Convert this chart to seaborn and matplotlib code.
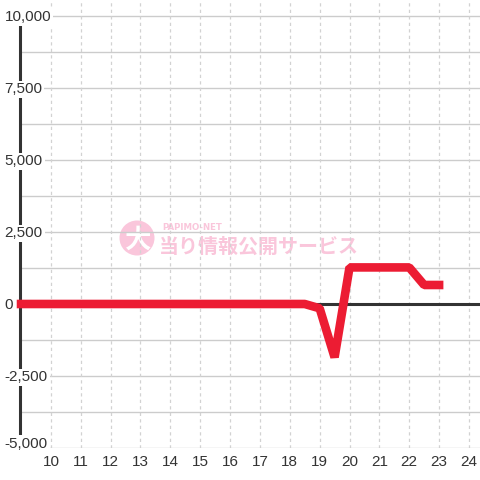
import matplotlib
matplotlib.use("Agg")
import numpy as np
import pandas as pd
import matplotlib.pyplot as plt
import seaborn as sns
from matplotlib.transforms import ScaledTranslation
from matplotlib.patches import Ellipse

# ---- data ----
hours = [9, 9.5, 10, 10.5, 11, 11.5, 12, 12.5, 13, 13.5, 14, 14.5, 15, 15.5,
         16, 16.5, 17, 17.5, 18, 18.5, 19, 19.5, 20, 20.5, 21, 21.5, 22, 22.5, 23]
values = [0, 0, 0, 0, 0, 0, 0, 0, 0, 0, 0, 0, 0, 0,
          0, 0, 0, 0, 0, 0, -150, -1850, 1270, 1270, 1270, 1270, 1270, 660, 660]
x_ticks = [10, 11, 12, 13, 14, 15, 16, 17, 18, 19, 20, 21, 22, 23, 24]
y_ticks = [-5000, -3750, -2500, -1250, 0, 1250, 2500, 3750, 5000, 6250, 7500, 8750, 10000]
y_labels = ["-5,000", "", "-2,500", "", "0", "", "2,500", "", "5,000", "", "7,500", "", "10,000"]

df = pd.DataFrame({"hour": hours, "value": values})

sns.set_theme(style="white")
plt.rcParams["font.family"] = ["Liberation Sans", "Noto Sans CJK JP", "DejaVu Sans"]

fig = plt.figure(figsize=(4.8, 4.8), dpi=100)
fig.patch.set_facecolor("white")
ax = fig.add_axes([20 / 480, 32 / 480, 460 / 480, 448 / 480])
ax.set_facecolor("white")

RED = "#ec1c33"
DARK = "#333333"
GRID = "#cccccc"

sns.lineplot(data=df, x="hour", y="value", ax=ax, color=RED, linewidth=6.2,
             solid_capstyle="projecting", solid_joinstyle="bevel", zorder=2.6,
             clip_on=False)

ax.set_xlim(8.965, 24.37)
ax.set_ylim(-5000, 10555)

# horizontal gridlines
for yv in y_ticks:
    ax.axhline(yv, color=GRID, linewidth=1.0, zorder=0.5)
# zero line
ax.axhline(0, color=DARK, linewidth=2.2, zorder=1.5)

# vertical dashed grid
ax.set_xticks(x_ticks)
ax.set_xticklabels([str(v) for v in x_ticks])
ax.grid(axis="x", color="#d2d2d2", linewidth=0.9, linestyle=(0, (2.6, 2.6)))
ax.grid(axis="y", visible=False)
ax.set_axisbelow(True)

ax.set_yticks(y_ticks)
ax.set_yticklabels(y_labels)

for s in ["top", "right", "bottom"]:
    ax.spines[s].set_visible(False)
ax.spines["left"].set_color(DARK)
ax.spines["left"].set_linewidth(2.2)
ax.spines["left"].set_bounds(-5000, 10000)
ax.spines["left"].set_zorder(2.5)

ax.tick_params(axis="x", length=0, pad=5, labelsize=11, labelcolor=DARK)
ax.tick_params(axis="y", length=0, pad=11.0, labelsize=11, labelcolor=DARK)
ax.yaxis.set_zorder(3.5)

for lab in ax.get_yticklabels():
    lab.set_horizontalalignment("left")
    lab.set_bbox(dict(facecolor="white", edgecolor="none", pad=1.2))
    if lab.get_text() == "-5,000":
        lab.set_transform(lab.get_transform() + ScaledTranslation(0, 6 / 100, fig.dpi_scale_trans))

ax.set_xlabel("")
ax.set_ylabel("")

# watermark
PINK = "#fac6db"
ax.add_patch(Ellipse(((137 - 20) / 460, (448 - 238) / 448), 35 / 460, 35 / 448,
                     transform=ax.transAxes, facecolor=PINK, edgecolor="none", zorder=0.2))
ax.text((138 - 20) / 460, (448 - 240) / 448, "大", transform=ax.transAxes, ha="center",
        va="center", fontsize=19, fontweight="bold", color="white", zorder=0.3,
        family=["Noto Sans CJK JP"])
ax.text((159 - 20) / 460, (448 - 246) / 448, "当り情報公開サービス", transform=ax.transAxes,
        ha="left", va="center", fontsize=14.4, fontweight="bold", color=PINK, zorder=0.3,
        family=["Noto Sans CJK JP"])
ax.text((162 - 20) / 460, (448 - 227) / 448, "PAPIMO-NET", transform=ax.transAxes,
        ha="left", va="center", fontsize=6.2, fontweight="bold", color=PINK, zorder=0.3,
        family=["DejaVu Sans"])

fig.savefig("out.png", dpi=100, facecolor="white")
